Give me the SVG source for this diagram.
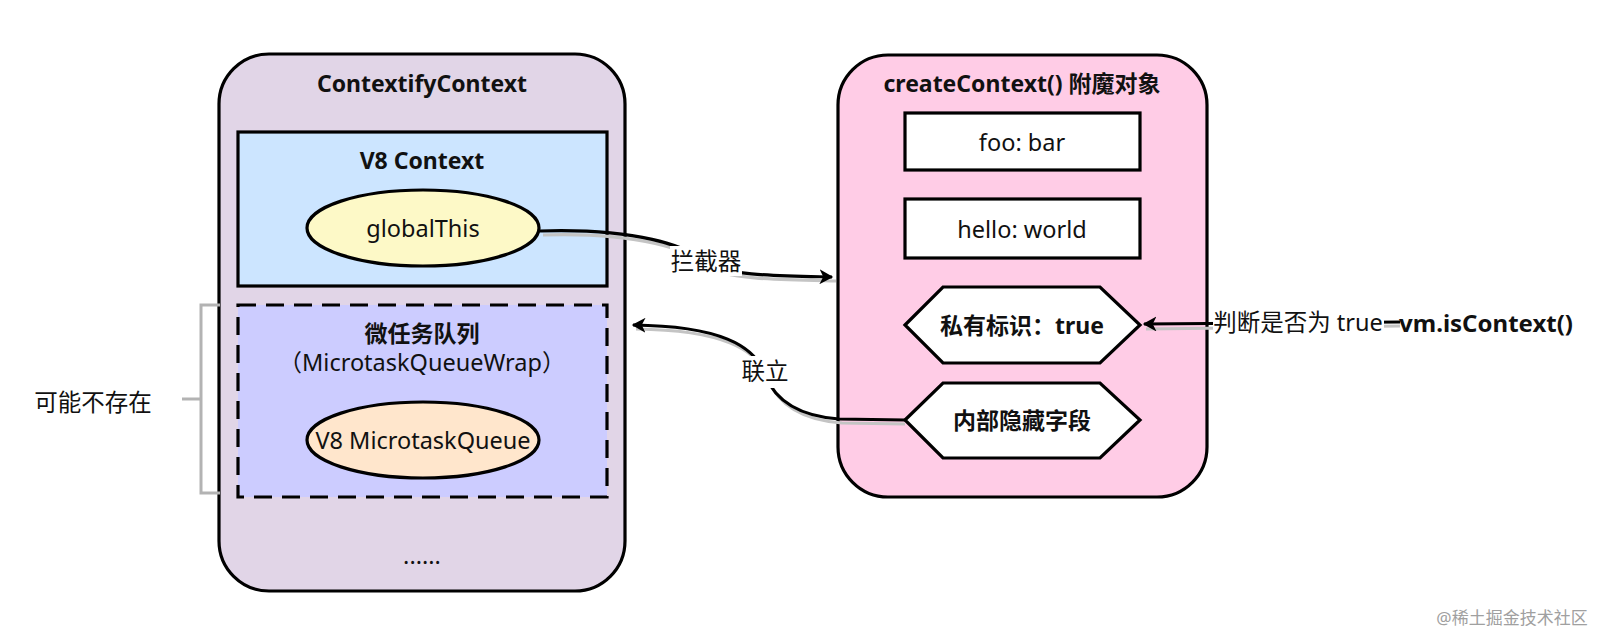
<svg xmlns="http://www.w3.org/2000/svg" width="1600" height="632" viewBox="0 0 1600 632">
<defs>
<marker id="arr" viewBox="0 0 12 12" refX="10" refY="6" markerWidth="15" markerHeight="15" markerUnits="userSpaceOnUse" orient="auto">
<path d="M0,0 L11,6 L0,12 L3,6 z" fill="#000"/>
</marker>
</defs>
<style>
text{font-family:"Noto Sans","Noto Sans CJK SC",sans-serif;font-size:23.5px;fill:#111;text-anchor:middle;dominant-baseline:central}
.b{font-weight:bold;font-size:23px}
.box{stroke:#000;stroke-width:3.2}
.edge{fill:none;stroke:#000;stroke-width:3.2}
.shadow{fill:none;stroke:#c4c4c4;stroke-width:3.2}
</style>
<rect width="1600" height="632" fill="#fff"/>

<g id="contextify">
<rect class="box" x="219" y="54" width="406" height="537" rx="50" fill="#e1d5e7"/>
<text class="b" x="422" y="83">ContextifyContext</text>
<text x="422" y="555">......</text>
</g>

<g id="v8context">
<rect class="box" x="238" y="132" width="369" height="154" fill="#cce5ff"/>
<text class="b" x="422" y="160">V8 Context</text>
</g>

<g id="globalThis">
<ellipse class="box" cx="423" cy="228" rx="116" ry="38" stroke-width="2.5" fill="#fdf9c7"/>
<text x="423" y="228">globalThis</text>
</g>

<g id="microtaskWrap">
<rect class="box" x="238" y="305" width="369" height="192" fill="#ccccff" stroke-dasharray="18 10"/>
<text class="b" x="422" y="333">微任务队列</text>
<text x="422" y="362">（MicrotaskQueueWrap）</text>
</g>

<g id="microtaskQueue">
<ellipse class="box" cx="423" cy="440" rx="116" ry="38" stroke-width="2.5" fill="#ffe6cc"/>
<text x="423" y="440">V8 MicrotaskQueue</text>
</g>

<g id="maybe">
<path d="M220,305 H201 V493 H220 M182,399 H201" fill="none" stroke="#b3b3b3" stroke-width="3"/>
<text x="93" y="402">可能不存在</text>
</g>

<g id="createContext">
<rect class="box" x="838" y="55" width="369" height="442" rx="50" fill="#ffcce6"/>
<text class="b" x="1022" y="83">createContext() 附魔对象</text>
</g>

<g id="foo">
<rect class="box" x="905" y="113" width="235" height="57" fill="#fff"/>
<text x="1022" y="142">foo: bar</text>
</g>

<g id="hello">
<rect class="box" x="905" y="199" width="235" height="59" fill="#fff"/>
<text x="1022" y="229">hello: world</text>
</g>

<g id="privateFlag">
<polygon class="box" points="905,325 943,287 1100,287 1140,325 1100,363 943,363" fill="#fff"/>
<text class="b" x="1022" y="325">私有标识：true</text>
</g>

<g id="hiddenField">
<polygon class="box" points="905,420 943,383 1100,383 1140,420 1100,458 943,458" fill="#fff"/>
<text class="b" x="1022" y="420">内部隐藏字段</text>
</g>

<g id="vmIsContext">
<text class="b" x="1486" y="322" style="font-size:24px">vm.isContext()</text>
</g>

<g id="connectors">
<path class="shadow" d="M543,235 C640,232 690,250 708,266 C724,280 790,280 836,281"/>
<path class="edge" d="M540,231 C637,228 687,246 705,262 C721,276 787,276 832,277" marker-end="url(#arr)"/>
<rect x="670" y="246" width="72" height="30" fill="#fff"/>
<text x="706" y="261">拦截器</text>

<path class="shadow" d="M905,424 L842,423 C800,420 778,404 768,379 C758,349 722,330 636,329"/>
<path class="edge" d="M905,420 L839,419 C797,416 775,400 765,375 C755,345 719,326 633,325" marker-end="url(#arr)"/>
<rect x="740" y="356" width="50" height="32" fill="#fff"/>
<text x="765" y="371">联立</text>

<path class="shadow" d="M1400,326 L1146,329"/>
<path class="edge" d="M1400,322 L1144,324" marker-end="url(#arr)"/>
<rect x="1213" y="306" width="171" height="32" fill="#fff"/>
<text x="1298" y="322">判断是否为 true</text>
</g>

<text x="1512" y="617" style="font-size:17px;fill:#a0a0a0">@稀土掘金技术社区</text>
</svg>
